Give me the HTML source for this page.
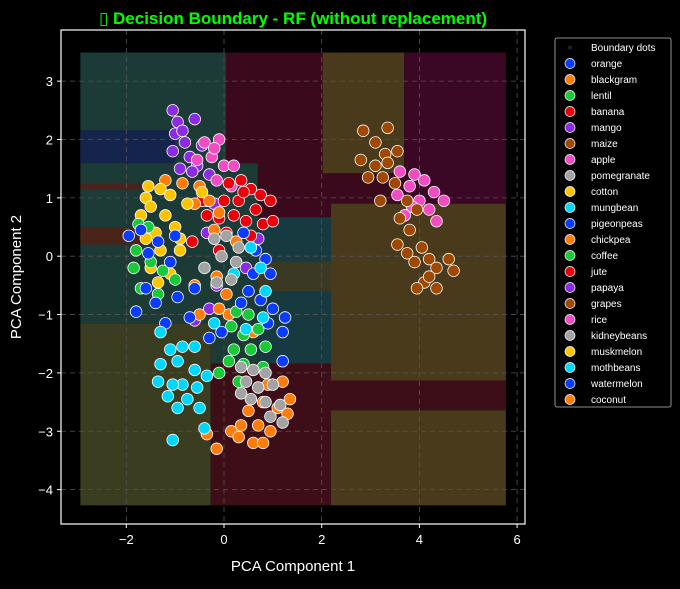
<!DOCTYPE html>
<html><head><meta charset="utf-8"><style>
body{margin:0;background:#000;width:680px;height:584px;overflow:hidden;font-family:"Liberation Sans","DejaVu Sans",sans-serif}
</style></head><body>
<svg id="c" width="680" height="584" xmlns="http://www.w3.org/2000/svg"></svg>
<script>
const xTicks=[-2,0,2,4,6];
const yTicks=[3,2,1,0,-1,-2,-3,-4];
const classNames=["orange","blackgram","lentil","banana","mango","maize","apple","pomegranate","cotton","mungbean","pigeonpeas","chickpea","coffee","jute","papaya","grapes","rice","kidneybeans","muskmelon","mothbeans","watermelon","coconut"];
const classColors=["#0a3cff","#ff7c0a","#1ac938","#e8000b","#8b2be2","#9f4800","#f14cc1","#a3a3a3","#ffc400","#00d7ff","#0a3cff","#ff7c0a","#1ac938","#e8000b","#8b2be2","#9f4800","#f14cc1","#a3a3a3","#ffc400","#00d7ff","#0a3cff","#ff7c0a"];
// boundary regions: [x0,x1,y0,y1,fill]
const regions=[
[-2.94,0.04,1.59,3.49,"#1c3a36"],[-2.94,-1.0,1.6,2.16,"#14244a"],
[0.04,2.19,0.67,3.49,"#3a0a1c"],[2.02,3.69,1.42,3.49,"#4a3a1c"],
[3.69,5.77,0.90,3.49,"#3a0824"],[2.02,3.69,0.90,1.42,"#3a0a1c"],
[-2.94,0.69,-1.15,1.59,"#1c3a36"],[-0.27,0.69,-1.84,-1.15,"#1c3a36"],[-2.94,-1.3,0.2,0.5,"#4a2418"],[-2.94,-1.3,-0.5,-0.7,"#4a2418"],[-2.94,-1.3,1.15,1.25,"#4a2418"],
[0.69,2.19,-1.84,0.67,"#163a40"],[0.69,2.19,-0.6,-0.1,"#3a3a24"],
[2.19,5.77,-2.13,0.90,"#4a3a1c"],
[-2.94,-0.27,-4.27,-1.15,"#3a3d20"],[-0.27,2.19,-4.27,-1.84,"#3e0e18"],
[2.19,5.77,-2.64,-2.13,"#3e0e18"],[2.19,5.77,-4.27,-2.64,"#4a3a1c"]];
// points per class [x,y]
const pts={
mango:[[-1.05,2.5],[-0.95,2.3],[-0.6,2.35],[-1.0,2.1],[-0.8,1.95],[-1.05,1.8],[-0.7,1.7],[-0.45,1.9],[-0.9,1.5],[-0.55,1.55],[-0.3,1.4],[-0.2,0.9],[-0.35,0.4],[0.45,-0.2],[-0.3,-0.9],[-0.15,-0.5],[-0.6,-1.1],[0.7,0.3],[-0.85,2.15],[-0.65,1.45]],
apple:[[-0.1,2.0],[-0.4,1.95],[-0.25,1.7],[0.0,1.55],[-0.15,1.3],[0.15,1.2],[-0.55,1.65],[0.2,1.55],[-0.35,0.95],[-0.2,1.85],[3.6,1.45],[3.9,1.4],[4.1,1.3],[3.8,1.2],[4.3,1.1],[3.55,1.05],[4.0,0.95],[4.5,0.95],[3.85,0.85],[4.2,0.8],[3.7,0.7],[4.35,0.6]],
maize:[[2.85,2.15],[3.35,2.2],[3.1,1.95],[3.3,1.75],[3.55,1.8],[2.8,1.65],[3.1,1.55],[3.35,1.6],[2.95,1.35],[3.25,1.35],[3.5,1.25],[3.2,0.95],[3.75,0.95],[3.95,0.8],[3.6,0.65],[3.8,0.45],[3.55,0.2],[3.75,0.05],[4.05,0.15],[4.2,-0.05],[3.9,-0.1],[4.35,-0.2],[4.6,-0.05],[4.7,-0.25],[4.1,-0.45],[4.35,-0.55],[3.95,-0.55],[4.2,-0.35]],
banana:[[0.1,1.25],[0.35,1.3],[0.55,1.15],[0.3,0.95],[0.0,0.95],[0.75,1.05],[0.65,0.8],[0.45,0.6],[0.8,0.55],[1.0,0.6],[0.2,0.7],[-0.45,0.95],[-0.1,0.65],[-0.35,0.7],[0.95,0.95],[-0.65,0.25],[0.05,0.4],[-0.1,0.1],[0.55,0.35],[0.4,1.1]],
orange_:[[-1.2,1.3],[-0.85,1.25],[-0.5,1.2],[-0.3,0.95],[-0.1,0.75],[-0.6,0.9],[-0.2,0.45],[0.25,0.25],[-0.6,-0.5],[-0.15,-0.35],[0.05,-0.65],[-0.5,-1.0],[0.1,-1.0],[-0.1,-0.9],[0.6,-1.3],[0.9,-2.2],[1.2,-2.15],[1.35,-2.45],[0.8,-2.5],[1.1,-2.6],[0.5,-2.65],[0.7,-2.9],[0.35,-2.9],[0.95,-3.0],[0.15,-3.0],[0.6,-3.2],[0.8,-3.2],[-0.35,-3.05],[-0.15,-3.3],[0.3,-3.1],[1.3,-2.7]],
cotton:[[-1.55,1.2],[-1.6,1.0],[-1.3,1.15],[-1.1,1.05],[-1.5,0.85],[-1.7,0.7],[-1.2,0.7],[-1.0,0.5],[-1.4,0.4],[-1.6,0.3],[-0.9,0.3],[-1.3,0.1],[-0.9,0.1],[-1.5,-0.2],[-1.1,-0.3],[-1.35,-0.45],[-0.75,0.9],[-0.45,1.1]],
lentil:[[-1.75,0.55],[-1.55,0.5],[-1.8,0.1],[-1.85,-0.2],[-1.5,-0.1],[-1.25,-0.25],[-1.7,-0.55],[-1.35,-0.65],[-1.0,-0.4],[0.25,-0.95],[0.5,-1.0],[0.15,-1.2],[0.4,-1.35],[0.7,-1.25],[0.2,-1.6],[0.55,-1.6],[0.85,-1.55],[0.1,-1.8],[0.4,-1.85],[0.8,-1.9],[0.3,-2.15],[-0.1,-2.0]],
orange:[[-1.95,0.35],[-1.7,0.45],[-1.35,0.25],[-1.0,0.35],[-1.55,0.05],[-1.1,-0.1],[-1.6,-0.55],[-1.4,-0.8],[-1.8,-0.95],[-0.95,-0.7],[-0.7,-1.05],[-0.6,-0.55],[0.4,0.4],[0.65,0.1],[0.85,-0.05],[0.6,-0.3],[0.95,-0.3],[0.5,-0.6],[0.75,-0.75],[1.0,-0.9],[0.9,-1.15],[1.2,-1.3],[1.25,-1.05],[1.2,-1.8],[-0.3,-1.4],[-0.05,-1.3],[0.35,-0.8],[-1.2,-1.15]],
mungbean:[[0.55,0.15],[0.75,-0.2],[0.85,-0.6],[0.2,-0.3],[0.45,-1.25],[0.8,-1.05],[-0.2,-1.15],[-1.3,-1.3],[-1.1,-1.6],[-0.85,-1.55],[-0.6,-1.55],[-1.3,-1.85],[-0.95,-1.8],[-0.6,-1.95],[-1.35,-2.15],[-0.85,-2.2],[-0.55,-2.25],[-0.35,-2.05],[-1.15,-2.4],[-0.75,-2.45],[-0.95,-2.6],[-1.05,-2.2],[-0.5,-2.6],[-0.4,-2.95],[-1.05,-3.15]],
pomegranate:[[-0.2,0.3],[0.05,0.35],[0.3,0.15],[-0.05,0.0],[0.25,-0.1],[-0.4,-0.2],[-0.15,-0.45],[0.15,-0.4],[0.35,-1.9],[0.6,-1.95],[0.85,-2.0],[0.45,-2.15],[0.7,-2.25],[1.0,-2.2],[0.55,-2.45],[0.85,-2.5],[1.15,-2.55],[0.35,-2.35],[1.2,-2.85],[0.95,-2.75]]
};
const order=[["mango",4],["apple",6],["maize",5],["banana",3],["orange_",1],["cotton",8],["lentil",2],["orange",0],["mungbean",9],["pomegranate",7]];
const X0=61,X1=525,Y0=30,Y1=524;
const sx=v=>224+v*48.85, sy=v=>256.2-v*58.35;
const svg=document.getElementById('c');const NS="http://www.w3.org/2000/svg";
function mk(t,a,p){const e=document.createElementNS(NS,t);for(const k in a)e.setAttribute(k,a[k]);(p||svg).appendChild(e);return e;}
const bg=mk('g',{});


regions.forEach(r=>{const e=mk('rect',{x:sx(r[0]),y:sy(r[3]),width:sx(r[1])-sx(r[0]),height:sy(r[2])-sy(r[3]),fill:r[4]},bg);

});
const grid=mk('g',{stroke:'#555',"stroke-dasharray":'5,4',"stroke-width":0.8});


xTicks.forEach(t=>mk('line',{x1:sx(t),x2:sx(t),y1:Y0,y2:Y1},grid));
yTicks.forEach(t=>mk('line',{y1:sy(t),y2:sy(t),x1:X0,x2:X1},grid));
const pg=mk('g',{stroke:'#fff',"stroke-width":0.8});


order.forEach(([k,ci])=>pts[k].forEach(p=>{const e=mk('circle',{cx:sx(p[0]),cy:sy(p[1]),r:5.8,fill:classColors[ci]},pg);

}));
const fr=mk('rect',{x:X0,y:Y0,width:X1-X0,height:Y1-Y0,fill:'none',stroke:'#fff',"stroke-width":1.2});


xTicks.forEach(t=>{mk('line',{x1:sx(t),x2:sx(t),y1:Y1,y2:Y1+4,stroke:'#fff'});const e=mk('text',{x:sx(t),y:Y1+20,fill:'#fff',"font-size":13,"text-anchor":'middle'});e.textContent=(t<0?'\u2212'+(-t):t);

});
yTicks.forEach(t=>{mk('line',{x1:X0-4,x2:X0,y1:sy(t),y2:sy(t),stroke:'#fff'});const e=mk('text',{x:X0-8,y:sy(t)+5,fill:'#fff',"font-size":13,"text-anchor":'end'});e.textContent=(t<0?'\u2212'+(-t):t);

});
let e=mk('text',{x:293,y:571,fill:'#fff',"font-size":15,"text-anchor":'middle'});e.textContent='PCA Component 1';


e=mk('text',{x:21,y:277,fill:'#fff',"font-size":15,"text-anchor":'middle',transform:'rotate(-90 21 277)'});e.textContent='PCA Component 2';


e=mk('text',{x:293,y:24,fill:'#00ff00',"font-size":17,"font-weight":'bold',"text-anchor":'middle'});e.textContent='\u25AF Decision Boundary - RF (without replacement)';


const lg=mk('g',{});


mk('rect',{x:555,y:38,width:116,height:369,rx:2,fill:'#000',stroke:'#bbb',"stroke-width":0.8},lg);
let ly=47.5;
mk('circle',{cx:570,cy:ly,r:2,fill:'#222'},lg);
e=mk('text',{x:591,y:ly+3.5,fill:'#fff',"font-size":10},lg);e.textContent='Boundary dots';


classNames.forEach((n,i)=>{const y=ly+16*(i+1);mk('circle',{cx:570,cy:y,r:5,fill:classColors[i],stroke:'#fff',"stroke-width":0.7},lg);
const t=mk('text',{x:591,y:y+3.5,fill:'#fff',"font-size":10},lg);t.textContent=n;

});
</script>
</body></html>
